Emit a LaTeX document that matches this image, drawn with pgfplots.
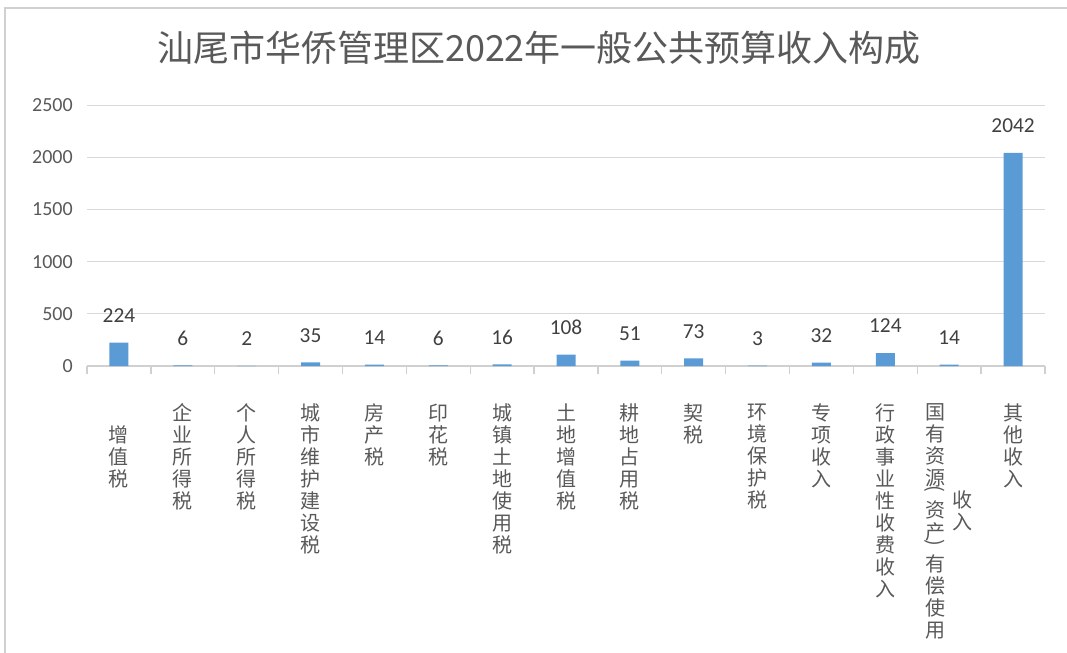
\documentclass[border=0pt]{standalone}
\usepackage{fontspec}
\setmainfont{Carlito}
\newfontfamily\cjk{Noto Sans CJK SC}
\usepackage{graphicx}
\usepackage{pgfplots}
\pgfplotsset{compat=1.18}
\definecolor{barblue}{HTML}{5B9BD5}
\definecolor{txt}{HTML}{595959}
\definecolor{lbl}{HTML}{404040}
\definecolor{gridc}{HTML}{D9D9D9}
\definecolor{framec}{HTML}{D0D0D0}
\begin{document}
\begin{tikzpicture}[x=0.75pt,y=0.75pt]
\useasboundingbox (0,0) rectangle (1067,653);
\draw[framec, line width=1.5pt] (5,-10) -- (5,645) -- (1090,645);
\node[font=\cjk\fontsize{27pt}{30pt}\selectfont, text=txt] at (539,605) {汕尾市华侨管理区2022年一般公共预算收入构成};
\begin{axis}[
  at={(65.25pt,215.25pt)}, anchor=south west,
  scale only axis, width=718.5pt, height=195.75pt,
  clip=false,
  xmin=-0.5, xmax=14.5, ymin=0, ymax=2500,
  ytick={0,500,...,2500},
  ymajorgrids, grid style={gridc, line width=0.75pt},
  axis x line*=bottom, axis y line*=left,
  y axis line style={draw=none},
  x axis line style={framec, line width=1pt},
  xtick={0,...,14},
  major tick length=0pt,
  minor xtick={-0.5,0.5,...,14.5},
  minor tick length=6pt, tick align=outside,
  minor tick style={framec, line width=1pt},
  /pgf/number format/.cd, 1000 sep={}, assume math mode=true, /pgfplots/.cd,
  xticklabel style={anchor=north, align=center, inner sep=0pt, yshift=-28pt,
    font=\cjk\fontsize{15pt}{16.5pt}\selectfont, text=txt},
  yticklabel style={anchor=east, inner sep=0pt, xshift=-10.5pt,
    font=\fontsize{15pt}{18pt}\selectfont, text=txt},
  xticklabels={{\phantom{增}\\增\\值\\税},{企\\业\\所\\得\\税},{个\\人\\所\\得\\税},
    {城\\市\\维\\护\\建\\设\\税},{房\\产\\税},{印\\花\\税},{城\\镇\\土\\地\\使\\用\\税},
    {土\\地\\增\\值\\税},{耕\\地\\占\\用\\税},{契\\税},{环\\境\\保\\护\\税},
    {专\\项\\收\\入},{行\\政\\事\\业\\性\\收\\费\\收\\入},{},{其\\他\\收\\入}},
  ybar, bar width=14.25pt,
  nodes near coords,
  nodes near coords style={anchor=center, yshift=20.25pt,
    font=\fontsize{16pt}{18pt}\selectfont, text=lbl},
]
\addplot[fill=barblue, draw=none] coordinates {
  (0,224) (1,6) (2,2) (3,35) (4,14) (5,6) (6,16) (7,108)
  (8,51) (9,73) (10,3) (11,32) (12,124) (13,14) (14,2042)};
\node[anchor=north, align=center, inner sep=0pt, font=\cjk\fontsize{15pt}{16.5pt}\selectfont, text=txt]
  at (axis cs:13,0) [xshift=-10.5pt, yshift=-28pt]
  {国\\有\\资\\源\\[-9pt]\rotatebox[origin=c]{-90}{(}\\资\\产\\[-9pt]\rotatebox[origin=c]{-90}{)}\\有\\偿\\使\\用};
\node[anchor=north, align=center, inner sep=0pt, font=\cjk\fontsize{15pt}{16.5pt}\selectfont, text=txt]
  at (axis cs:13,0) [xshift=10pt, yshift=-93pt] {收\\入};
\end{axis}
\end{tikzpicture}
\end{document}
